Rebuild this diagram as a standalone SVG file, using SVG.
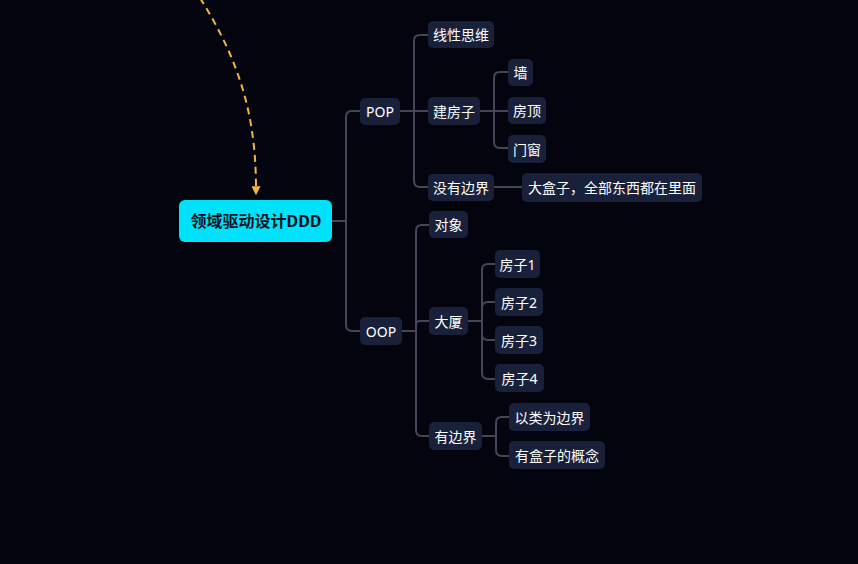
<svg xmlns="http://www.w3.org/2000/svg" width="858" height="564" viewBox="0 0 858 564">
<defs>
<style>
.bg{fill:#04040e}
.n rect{fill:#19203a}
.n text{fill:#ffffff;font-family:"Noto Sans","Noto Sans CJK SC",sans-serif;font-size:14px;text-anchor:middle;dominant-baseline:central}
.root rect{fill:#00e1fb}
.root text{fill:#0e1320;font-family:"Noto Sans","Noto Sans CJK SC",sans-serif;font-size:16px;font-weight:bold;text-anchor:middle;dominant-baseline:central}
.c path{fill:none;stroke:#434659;stroke-width:2}
.c path.dash{stroke:#f5b63c;stroke-width:2;stroke-dasharray:7 5}
</style>
<marker id="ah" viewBox="0 0 10 10" refX="2" refY="5" markerWidth="9" markerHeight="9" orient="auto" markerUnits="userSpaceOnUse">
<path d="M0 0 L10 5 L0 10 z" fill="#f5b63c"/>
</marker>
</defs>
<rect class="bg" x="0" y="0" width="858" height="564"/>
<g id="connectors" class="c">
<path d="M332 221 H346 V117 Q346 111 352 111 H360"/>
<path d="M332 221 H346 V325 Q346 331 352 331 H360"/>
<path d="M400 111 H414 V41 Q414 35 420 35 H428"/>
<path d="M400 111 H428"/>
<path d="M400 111 H414 V181 Q414 187 420 187 H428"/>
<path d="M480 111 H494 V78 Q494 72 500 72 H508"/>
<path d="M480 111 H508"/>
<path d="M480 111 H494 V142 Q494 148 500 148 H508"/>
<path d="M494 187 H522"/>
<path d="M402 331 H416 V231 Q416 225 422 225 H429"/>
<path d="M402 331 H416 V325 Q416 321 420 321 H429"/>
<path d="M402 331 H416 V430 Q416 436 422 436 H429"/>
<path d="M468 321 H482 V270 Q482 264 488 264 H495"/>
<path d="M468 321 H482 V308 Q482 302 488 302 H495"/>
<path d="M468 321 H482 V334 Q482 340 488 340 H495"/>
<path d="M468 321 H482 V373 Q482 379 488 379 H495"/>
<path d="M482 436 H496 V423 Q496 417 502 417 H509"/>
<path d="M482 436 H496 V450 Q496 456 502 456 H509"/>
<path class="dash" d="M200 -2 C236 55 256 110 256 188" marker-end="url(#ah)"/>
</g>
<g id="root" class="root"><rect x="179" y="200" width="153" height="42" rx="6"/><text x="256" y="221">领域驱动设计DDD</text></g>
<g id="pop" class="n"><rect x="360" y="98" width="40" height="27" rx="5"/><text x="380" y="111.5">POP</text></g>
<g id="oop" class="n"><rect x="360" y="317" width="42" height="28" rx="5"/><text x="381" y="331">OOP</text></g>
<g id="xxsw" class="n"><rect x="428" y="21" width="66" height="27" rx="5"/><text x="461" y="34.5">线性思维</text></g>
<g id="jfz" class="n"><rect x="428" y="97" width="52" height="28" rx="5"/><text x="454" y="111">建房子</text></g>
<g id="myb" class="n"><rect x="428" y="174" width="66" height="27" rx="5"/><text x="461" y="187.5">没有边界</text></g>
<g id="qiang" class="n"><rect x="508" y="59" width="25" height="27" rx="5"/><text x="520.5" y="72.5">墙</text></g>
<g id="fd" class="n"><rect x="508" y="97" width="38" height="27" rx="5"/><text x="527" y="110.5">房顶</text></g>
<g id="mc" class="n"><rect x="508" y="135" width="38" height="28" rx="5"/><text x="527" y="149">门窗</text></g>
<g id="dhz" class="n"><rect x="522" y="173" width="180" height="29" rx="5"/><text x="612" y="187.5">大盒子，全部东西都在里面</text></g>
<g id="dx" class="n"><rect x="429" y="211" width="39" height="27" rx="5"/><text x="448.5" y="224.5">对象</text></g>
<g id="ds" class="n"><rect x="429" y="307" width="39" height="28" rx="5"/><text x="448.5" y="321">大厦</text></g>
<g id="ybj" class="n"><rect x="429" y="422" width="53" height="28" rx="5"/><text x="455.5" y="436">有边界</text></g>
<g id="fz1" class="n"><rect x="495" y="250" width="45" height="28" rx="5"/><text x="517.5" y="264">房子1</text></g>
<g id="fz2" class="n"><rect x="495" y="288" width="48" height="28" rx="5"/><text x="519" y="302">房子2</text></g>
<g id="fz3" class="n"><rect x="495" y="326" width="48" height="28" rx="5"/><text x="519" y="340">房子3</text></g>
<g id="fz4" class="n"><rect x="495" y="364" width="49" height="28" rx="5"/><text x="519.5" y="378">房子4</text></g>
<g id="ylwbj" class="n"><rect x="509" y="403" width="81" height="28" rx="5"/><text x="549.5" y="417">以类为边界</text></g>
<g id="yhzdgn" class="n"><rect x="509" y="441" width="96" height="28" rx="5"/><text x="557" y="455">有盒子的概念</text></g>
</svg>
